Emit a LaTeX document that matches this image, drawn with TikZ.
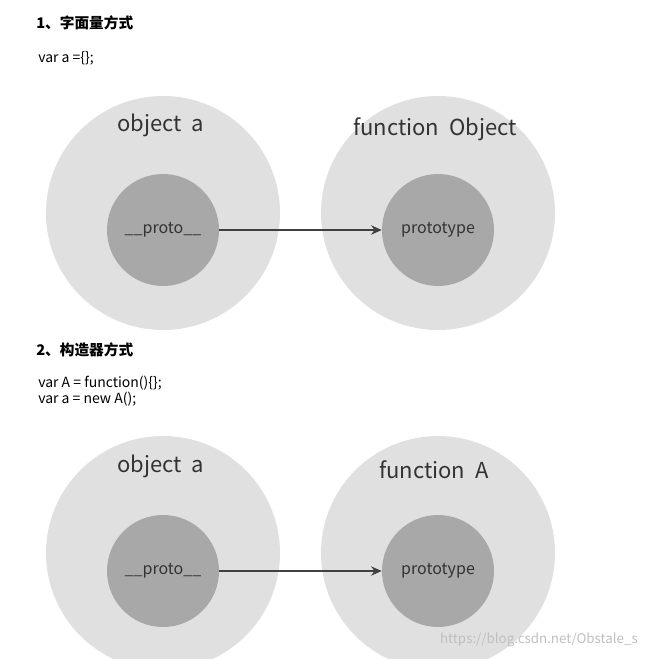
\documentclass[tikz,border=0pt]{standalone}
\usepackage{fontspec}
\setmainfont{Noto Sans CJK SC}
\usetikzlibrary{arrows.meta}
\definecolor{outerc}{HTML}{E0E0E0}
\definecolor{innerc}{HTML}{A8A8A8}
\definecolor{arr}{HTML}{404040}
\tikzset{
  outer/.style={circle,fill=outerc,minimum size=234*0.75pt,inner sep=0},
  inner/.style={circle,fill=innerc,minimum size=112*0.75pt,inner sep=0,font=\fontsize{12}{14}\selectfont,text=black!80},
  big/.style={font=\fontsize{16.5}{18}\selectfont,text=black!80},
  code/.style={anchor=west,font=\fontsize{10.5}{11}\selectfont,inner sep=0},
  head/.style={anchor=west,font=\fontsize{11}{12}\selectfont\bfseries,inner sep=0},
  link/.style={-{Stealth[length=8pt,width=7pt]},line width=2pt,draw=arr}
}
\begin{document}
\begin{tikzpicture}[x=0.75pt,y=-0.75pt]
\useasboundingbox (0,0) rectangle (647,659);
\node[head] (h1) at (36,23) {1、字面量方式};
\node[code] (c1) at (38,58) {var a =\{\};};
\node[outer] (oa) at (163,213) {};
\node[outer] (of) at (438,213) {};
\node[big] (ta) at (161,125) {object\ \ a};
\node[big] (tf) at (435,129) {function\ \ Object};
\node[inner] (pa) at (163,230) {\_\_proto\_\_};
\node[inner] (pf) at (438,230) {prototype};
\draw[link] (pa.east) -- (pf.west);
\node[head] (h2) at (36,350) {2、构造器方式};
\node[code] (c2) at (38,383) {var A = function()\{\};};
\node[code] (c3) at (38,399) {var a = new A();};
\node[outer] (ob) at (163,553) {};
\node[outer] (og) at (438,553) {};
\node[big] (tb) at (161,466) {object\ \ a};
\node[big] (tg) at (434,470) {function\ \ A};
\node[inner] (pb) at (163,571) {\_\_proto\_\_};
\node[inner] (pg) at (438,571) {prototype};
\draw[link] (pb.east) -- (pg.west);
\node[anchor=east,text=black!25,font=\fontsize{10}{11}\selectfont,inner sep=0] (wm) at (638,640) {https://blog.csdn.net/Obstale\_s};
\end{tikzpicture}
\end{document}
